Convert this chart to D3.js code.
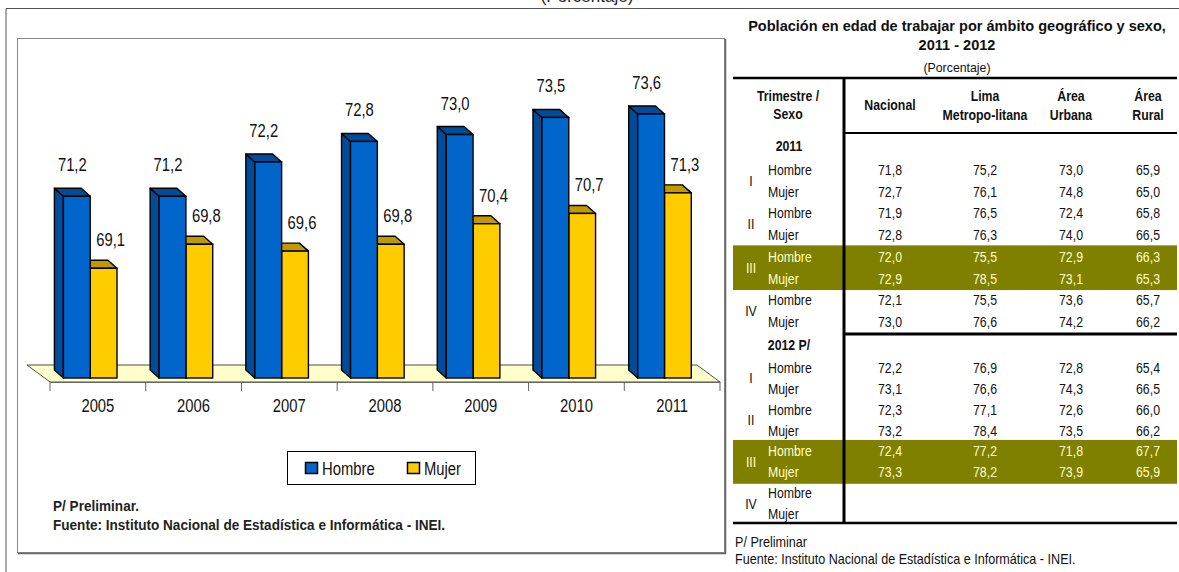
<!DOCTYPE html>
<html>
<head>
<meta charset="utf-8">
<script src="https://cdn.jsdelivr.net/npm/d3@7"></script>
<style>
  body { margin: 0; background: #fff; }
  svg { display: block; }
</style>
</head>
<body>
<svg id="chart" width="1179" height="572"></svg>
<script>
// datos del grafico
let years = ['2005', '2006', '2007', '2008', '2009', '2010', '2011']
let hombre = [71.2, 71.2, 72.2, 72.8, 73.0, 73.5, 73.6]
let mujer = [69.1, 69.8, 69.6, 69.8, 70.4, 70.7, 71.3]
let series = ['Hombre', 'Mujer']

// datos de la tabla
let headLines = [['Nacional'], ['Lima', 'Metropo-litana'], ['Área', 'Urbana'], ['Área', 'Rural']]
let trimestres = ['I', 'II', 'III', 'IV']
let sexos = ['Hombre', 'Mujer']
let t2011 = [
	[71.8, 75.2, 73.0, 65.9], [72.7, 76.1, 74.8, 65.0],
	[71.9, 76.5, 72.4, 65.8], [72.8, 76.3, 74.0, 66.5],
	[72.0, 75.5, 72.9, 66.3], [72.9, 78.5, 73.1, 65.3],
	[72.1, 75.5, 73.6, 65.7], [73.0, 76.6, 74.2, 66.2],
]
let t2012 = [
	[72.2, 76.9, 72.8, 65.4], [73.1, 76.6, 74.3, 66.5],
	[72.3, 77.1, 72.6, 66.0], [73.2, 78.4, 73.5, 66.2],
	[72.4, 77.2, 71.8, 67.7], [73.3, 78.2, 73.9, 65.9],
	null, null,
]
let blocks = [
	{ label: '2011', rows: t2011, top: 146, r0: 170, r7: 322 },
	{ label: '2012 P/', rows: t2012, top: 345, r0: 368, r7: 514 },
]

// Arial Narrow no esta: Liberation Sans comprimida a lo ancho
let FONT = '"Liberation Sans", Arial, sans-serif'
let es = d3.formatLocale({ decimal: ',', thousands: '.', grouping: [3], currency: ['', ''] })
let fmt = es.format('.1f')

let svg = d3.select('#chart').style('font-family', FONT)

function txt(g, x, y, s, size, sx, o = {}) {
	return g.append('text')
		.attr('transform', `translate(${x},${y}) scale(${sx},1)`)
		.attr('font-size', size)
		.attr('font-weight', o.bold ? 'bold' : null)
		.attr('text-anchor', o.anchor || null)
		.attr('fill', o.fill || '#111')
		.text(s)
}

// marco exterior
txt(svg, 587, 2, '(Porcentaje)', 17, 1, { anchor: 'middle', fill: '#222' })
svg.append('path').attr('d', 'M6,572V8.5H1179').attr('fill', 'none').attr('stroke', '#555')

// caja del grafico
svg.append('rect').attr('x', 17.5).attr('y', 38.5).attr('width', 707).attr('height', 514)
	.attr('fill', '#fff').attr('stroke', '#888')
svg.append('path').attr('d', 'M18,553.5H725.5V39').attr('fill', 'none').attr('stroke', '#666').attr('stroke-width', 1.5)

// escalas
let x = d3.scaleBand().domain(years).range([50, 720])
let y = d3.scaleLinear().domain([65.9, 73.6]).range([378, 114])
let bw = x.bandwidth()
let barW = bw * 0.28
let dx = -9, dy = -8
let base = y(65.9)
let CS = 19, CX = 0.78

let colors = {
	Hombre: { front: '#0066CC', dark: '#004C99' },
	Mujer: { front: '#FFCC00', dark: '#C09A00' },
}

// piso
let fy = 382, fdx = -23, fdy = -17
svg.append('path')
	.attr('d', `M${x.range()[0]},${fy}H${x.range()[1]}l${fdx},${fdy}H${x.range()[0] + fdx}Z`)
	.attr('fill', '#FFFFCC').attr('stroke', '#222').attr('stroke-width', 0.8)

// eje
let axis = svg.append('g').attr('transform', `translate(0,${fy})`)
	.call(d3.axisBottom(x).tickSize(0).tickPadding(17))
axis.select('.domain').attr('stroke', '#666')
axis.selectAll('text').attr('font-size', CS).attr('font-family', FONT).attr('fill', '#111')
	.attr('transform', `scale(${CX},1)`)
let edges = years.map(d => x(d)).concat([x.range()[1]])
svg.append('g').selectAll('line').data(edges).join('line')
	.attr('x1', d => d).attr('x2', d => d)
	.attr('y1', fy).attr('y2', fy + 9)
	.attr('stroke', '#666')

function bar3d(g, x0, v, c) {
	let yt = y(v)
	g.append('path')
		.attr('d', `M${x0},${yt}l${dx},${dy}V${base + dy}L${x0},${base}Z`)
		.attr('fill', c.dark).attr('stroke', '#000').attr('stroke-width', 1.4).attr('stroke-linejoin', 'round')
	g.append('path')
		.attr('d', `M${x0},${yt}l${dx},${dy}h${barW}l${-dx},${-dy}Z`)
		.attr('fill', c.dark).attr('stroke', '#000').attr('stroke-width', 1.4).attr('stroke-linejoin', 'round')
	g.append('rect')
		.attr('x', x0).attr('y', yt).attr('width', barW).attr('height', base - yt)
		.attr('fill', c.front).attr('stroke', '#000').attr('stroke-width', 1.4)
}

let bars = svg.append('g')
years.forEach((yr, i) => {
	let g = bars.append('g')
	let xh = x(yr) + bw * 0.14
	let xm = x(yr) + bw * 0.42
	bar3d(g, xm, mujer[i], colors.Mujer)
	bar3d(g, xh, hombre[i], colors.Hombre)
})

// etiquetas de valores
let lab = svg.append('g')
years.forEach((yr, i) => {
	txt(lab, x(yr) + bw * 0.14 + (barW + dx) / 2, y(hombre[i]) + dy - 17, fmt(hombre[i]), CS, CX, { anchor: 'middle' })
	txt(lab, x(yr) + bw * 0.42 + barW / 2 + 7, y(mujer[i]) + dy - 14, fmt(mujer[i]), CS, CX, { anchor: 'middle' })
})

// leyenda
let leg = svg.append('g').attr('transform', 'translate(287.5,451.5)')
leg.append('rect').attr('width', 188).attr('height', 33).attr('fill', '#fff').attr('stroke', '#000')
let li = leg.selectAll('g').data(series).join('g')
	.attr('transform', (d, i) => `translate(${18 + i * 102},11)`)
li.append('rect').attr('width', 12).attr('height', 11)
	.attr('fill', d => colors[d].front).attr('stroke', '#000').attr('stroke-width', 1.5)
li.each(function (d) { txt(d3.select(this), 16.5, 12, d, CS, CX) })

// notas del grafico
txt(svg, 53, 511, 'P/ Preliminar.', 14, 0.97, { bold: true, fill: '#222' })
txt(svg, 53, 530, 'Fuente: Instituto Nacional de Estadística e Informática - INEI.', 14, 0.97, { bold: true, fill: '#222' })

// ---- tabla ----
let tb = svg.append('g')
let tl = 733, tr = 1177, vx = 844
let colX = [890, 985, 1071, 1148]
let TS = 14, TX = 0.88
let light = '#FFFFCC'

txt(tb, 957, 31, 'Población en edad de trabajar por ámbito geográfico y sexo,', 15, 0.97, { bold: true, anchor: 'middle' })
txt(tb, 957, 50, '2011 - 2012', 15, 0.97, { bold: true, anchor: 'middle' })
txt(tb, 957, 72, '(Porcentaje)', 13, 0.95, { anchor: 'middle' })

// bandas III
blocks.forEach(b => {
	let ry = d3.scaleLinear().domain([0, 7]).range([b.r0, b.r7])
	b.ry = ry
	tb.append('rect').attr('x', tl).attr('width', tr - tl)
		.attr('y', ry(4) - 11.5).attr('height', ry(5) - ry(4) + 23)
		.attr('fill', '#808000')
})

// cabecera
txt(tb, 788, 101, 'Trimestre /', TS, TX, { bold: true, anchor: 'middle' })
txt(tb, 788, 119, 'Sexo', TS, TX, { bold: true, anchor: 'middle' })
headLines.forEach((lines, j) => {
	let y0 = lines.length === 1 ? 110 : 101
	lines.forEach((s, k) => {
		txt(tb, colX[j], y0 + k * 19, s, TS, TX, { bold: true, anchor: 'middle' })
	})
})

// cuerpo
blocks.forEach(b => {
	let ry = b.ry
	txt(tb, 789, b.top + 5, b.label, TS, TX, { bold: true, anchor: 'middle' })
	trimestres.forEach((t, q) => {
		let c = q === 2 ? light : '#111'
		txt(tb, 751, (ry(q * 2) + ry(q * 2 + 1)) / 2 + 5, t, TS, TX, { anchor: 'middle', fill: c })
	})
	b.rows.forEach((row, r) => {
		let c = (r === 4 || r === 5) ? light : '#111'
		txt(tb, 768, ry(r) + 5, sexos[r % 2], TS, TX, { fill: c })
		if (!row) return
		row.forEach((v, j) => {
			txt(tb, colX[j], ry(r) + 5, fmt(v), TS, TX, { anchor: 'middle', fill: c })
		})
	})
})

// lineas de la tabla
let ln = tb.append('g').attr('stroke', '#000').attr('fill', 'none')
ln.append('path').attr('d', `M${tl},78H${tr}`).attr('stroke-width', 2.5)
ln.append('path').attr('d', `M${vx},78V523`).attr('stroke-width', 3)
ln.append('path').attr('d', `M${vx},133H${tr}`).attr('stroke-width', 2)
ln.append('path').attr('d', `M${vx},334H${tr}`).attr('stroke-width', 3)
ln.append('path').attr('d', `M${tl},523H${tr}`).attr('stroke-width', 2.5)

// notas de la tabla
txt(tb, 735, 547, 'P/ Preliminar', TS, 0.9)
txt(tb, 735, 564, 'Fuente: Instituto Nacional de Estadística e Informática - INEI.', TS, 0.9)
</script>
</body>
</html>
